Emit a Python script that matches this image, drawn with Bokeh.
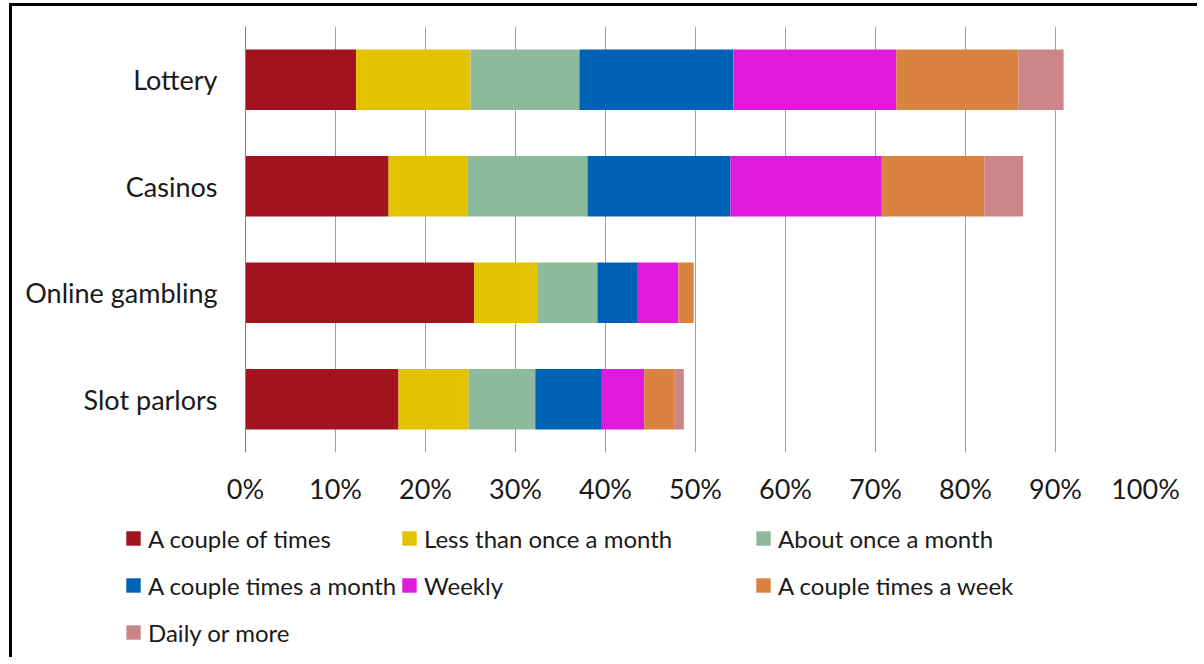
from bokeh.plotting import figure
from bokeh.layouts import column
from bokeh.models import (ColumnDataSource, FactorRange, Range1d, FixedTicker,
                          Legend, LegendItem)
from bokeh.embed import file_html
from bokeh.resources import INLINE

categories = ["Lottery", "Casinos", "Online gambling", "Slot parlors"]
series = ["A couple of times", "Less than once a month", "About once a month",
          "A couple times a month", "Weekly", "A couple times a week", "Daily or more"]
colors = ["#A1141F", "#E3C300", "#8CBA9A", "#0062B4", "#E01ADD", "#DA823F", "#CC8689"]

a_couple_of_times = [12.3, 15.9, 25.4, 17.0]
less_than_monthly = [12.7, 8.8, 7.1, 7.8]
about_monthly = [12.1, 13.3, 6.6, 7.4]
couple_times_month = [17.1, 15.9, 4.4, 7.4]
weekly = [18.1, 16.8, 4.6, 4.7]
couple_times_week = [13.6, 11.4, 1.7, 3.4]
daily_or_more = [5.0, 4.3, 0.0, 1.0]

tick_values = [0, 10, 20, 30, 40, 50, 60, 70, 80, 90, 100]
tick_labels = ["0%", "10%", "20%", "30%", "40%", "50%", "60%", "70%", "80%", "90%", "100%"]

FONT = "Lato"
W = 1188
H_MAIN = 504
H_LEG = 150

data = {"cat": categories}
for name, vals in zip(series, [a_couple_of_times, less_than_monthly, about_monthly,
                                couple_times_month, weekly, couple_times_week, daily_or_more]):
    data[name] = vals
source = ColumnDataSource(data)

p = figure(width=W, height=H_MAIN, output_backend="svg", toolbar_location=None,
           y_range=FactorRange(factors=categories[::-1]),
           x_range=Range1d(0, 100),
           min_border_left=233, min_border_right=W - 1133,
           min_border_top=20, min_border_bottom=H_MAIN - 446)

renderers = p.hbar_stack(series, y="cat", height=0.57, color=colors, source=source,
                         line_color=None)

p.outline_line_color = None
p.background_fill_color = "white"
p.border_fill_color = "white"

p.xaxis.ticker = FixedTicker(ticks=tick_values)
p.xaxis.major_label_overrides = {v: l for v, l in zip(tick_values, tick_labels)}
p.xaxis.axis_line_color = None
p.xaxis.major_tick_line_color = None
p.xaxis.minor_tick_line_color = None
p.xaxis.major_label_standoff = 13
p.xaxis.major_label_text_font = FONT
p.xaxis.major_label_text_font_size = "27px"
p.xaxis.major_label_text_color = "#1a1a1a"

p.yaxis.axis_line_color = "#7f7f7f"
p.yaxis.axis_line_width = 1
p.yaxis.major_tick_line_color = None
p.yaxis.minor_tick_line_color = None
p.yaxis.major_label_standoff = 22
p.yaxis.major_label_text_font = FONT
p.yaxis.major_label_text_font_size = "27px"
p.yaxis.major_label_text_color = "#1a1a1a"

p.xgrid.grid_line_color = "#a0a0a0"
p.xgrid.grid_line_width = 1
p.ygrid.grid_line_color = None

# legend panel (a separate figure whose frame spans its whole width)
lf = figure(width=W, height=H_LEG, output_backend="svg", toolbar_location=None,
            x_range=Range1d(0, 1), y_range=Range1d(0, 1),
            x_axis_type=None, y_axis_type=None,
            min_border_left=0, min_border_right=0, min_border_top=0, min_border_bottom=0)
lf.outline_line_color = None
lf.xgrid.visible = False
lf.ygrid.visible = False
lf.background_fill_color = "white"
lf.border_fill_color = "white"
# swatch renderers: zero-width bars, used only for the legend swatches
leg_renderers = [lf.hbar(y=[0.5], left=[0], right=[0], height=0, color=c, line_color=None)
                 for c in colors]

col_x = [112, 388, 742]
row_c = [28, 75, 122]
slots = [(0, 0), (1, 0), (2, 0), (0, 1), (1, 1), (2, 1), (0, 2)]
ITEM_H = 29
for i, (c, r) in enumerate(slots):
    y_up = H_LEG - row_c[r] - ITEM_H / 2
    leg = Legend(items=[LegendItem(label=series[i], renderers=[leg_renderers[i]])],
                 location=(col_x[c], y_up), orientation="vertical",
                 glyph_width=18, glyph_height=18, label_height=18,
                 label_standoff=6, spacing=0, padding=0, margin=0,
                 border_line_color=None, background_fill_alpha=0,
                 label_text_font=FONT, label_text_font_size="24px",
                 label_text_color="#1a1a1a")
    lf.add_layout(leg, "center")

layout = column(p, column(lf, spacing=0, width=W), spacing=0, width=W,
                sizing_mode="fixed",
                styles={"margin-left": "12px", "margin-top": "6px",
                        "box-shadow": "-3px -3px 0 0 #000"})

html = file_html(layout, INLINE)
html = html.replace("</head>", "<style>html, body { overflow: hidden; }</style></head>", 1)
open("out.html", "w").write(html)
